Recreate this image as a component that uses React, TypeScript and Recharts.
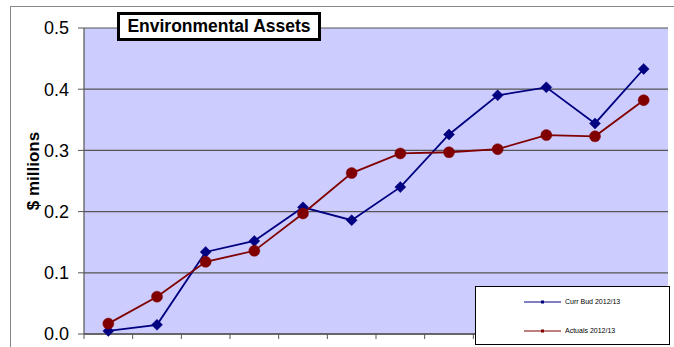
import { CartesianGrid, Line, LineChart, XAxis, YAxis } from "recharts";

// Monthly values, $ millions
const months = [1, 2, 3, 4, 5, 6, 7, 8, 9, 10, 11, 12];
const currBud = [0.005, 0.015, 0.134, 0.152, 0.207, 0.186, 0.24, 0.326, 0.39, 0.403, 0.344, 0.433];
const actuals = [0.017, 0.061, 0.118, 0.136, 0.197, 0.263, 0.295, 0.297, 0.302, 0.325, 0.323, 0.382];
const yTicks = [0, 0.1, 0.2, 0.3, 0.4, 0.5];
const xTicks = [0, 1, 2, 3, 4, 5, 6, 7, 8, 9, 10, 11, 12];

const BLUE = "#000080";
const RED = "#800000";
const FONT = "'Liberation Sans', Arial, sans-serif";

const data = months.map((m, i) => ({ x: m - 0.5, bud: currBud[i], act: actuals[i] }));

function Diamond(props: any) {
  const { cx, cy } = props;
  if (cx == null || cy == null) return null;
  const r = 5.5;
  return (
    <polygon
      points={`${cx},${cy - r} ${cx + r},${cy} ${cx},${cy + r} ${cx - r},${cy}`}
      fill={BLUE}
      stroke={BLUE}
      strokeWidth={0.5}
    />
  );
}

function Dot(props: any) {
  const { cx, cy } = props;
  if (cx == null || cy == null) return null;
  return <circle cx={cx} cy={cy} r={5.5} fill={RED} stroke={RED} strokeWidth={0.5} />;
}

export default function App() {
  return (
    <div
      style={{
        position: "absolute",
        left: 0,
        top: 0,
        width: 674,
        height: 347,
        overflow: "hidden",
        background: "#fff",
        fontFamily: FONT,
      }}
    >
      <div
        style={{
          position: "absolute",
          left: 10,
          top: 6,
          width: 720,
          height: 400,
          border: "1px solid #888",
        }}
      />
      <LineChart
        width={674}
        height={347}
        data={data}
        margin={{ top: 28, right: 6, bottom: 8, left: 0 }}
        style={{ position: "absolute", left: 0, top: 0 }}
      >
        <CartesianGrid fill="#CCCCFF" stroke="#555" strokeWidth={1.2} vertical={false} />
        <XAxis
          dataKey="x"
          type="number"
          domain={[0, 12]}
          ticks={xTicks}
          height={5}
          tickSize={5}
          tickFormatter={() => ""}
          stroke="#555"
          tickLine={{ stroke: "#555" }}
          axisLine={{ stroke: "#555", strokeWidth: 1.5 }}
        />
        <YAxis
          type="number"
          domain={[0, 0.5]}
          ticks={yTicks}
          width={84}
          tickSize={6}
          tickMargin={9}
          tickFormatter={(v: number) => v.toFixed(1)}
          tick={{ fill: "#000", fontSize: 18, fontFamily: FONT }}
          stroke="#555"
          axisLine={{ stroke: "#555", strokeWidth: 1.2 }}
          label={{
            value: "$ millions",
            content: () => (
              <text
                transform="translate(33,171) rotate(-90)"
                textAnchor="middle"
                dominantBaseline="central"
                fill="#000"
                fontSize={17}
                fontWeight="bold"
                fontFamily={FONT}
              >
                $ millions
              </text>
            ),
          }}
        />
        <Line
          dataKey="bud"
          stroke={BLUE}
          strokeWidth={1.8}
          dot={<Diamond />}
          activeDot={false}
          isAnimationActive={false}
        />
        <Line
          dataKey="act"
          stroke={RED}
          strokeWidth={1.8}
          dot={<Dot />}
          activeDot={false}
          isAnimationActive={false}
        />
      </LineChart>

      <div
        style={{
          position: "absolute",
          left: 117,
          top: 12,
          width: 198,
          height: 23,
          border: "3px solid #000",
          background: "#fff",
          fontSize: 17.5,
          fontWeight: "bold",
          lineHeight: "23px",
          textAlign: "center",
          whiteSpace: "nowrap",
        }}
      >
        Environmental Assets
      </div>

      <div
        style={{
          position: "absolute",
          left: 475,
          top: 286,
          width: 193,
          height: 57,
          border: "1px solid #000",
          background: "#fff",
          fontSize: 7,
        }}
      >
        {[
          { label: "Curr Bud 2012/13", color: BLUE, top: 11 },
          { label: "Actuals 2012/13", color: RED, top: 40 },
        ].map((s) => (
          <div
            key={s.label}
            style={{ position: "absolute", left: 48, top: s.top, display: "flex", alignItems: "center" }}
          >
            <svg width={38} height={6} style={{ display: "block" }}>
              <line x1={0} y1={3} x2={37} y2={3} stroke={s.color} strokeWidth={1} />
              <rect x={17} y={1.5} width={3} height={3} fill={s.color} />
            </svg>
            <span style={{ marginLeft: 3, lineHeight: "8px" }}>{s.label}</span>
          </div>
        ))}
      </div>
    </div>
  );
}
